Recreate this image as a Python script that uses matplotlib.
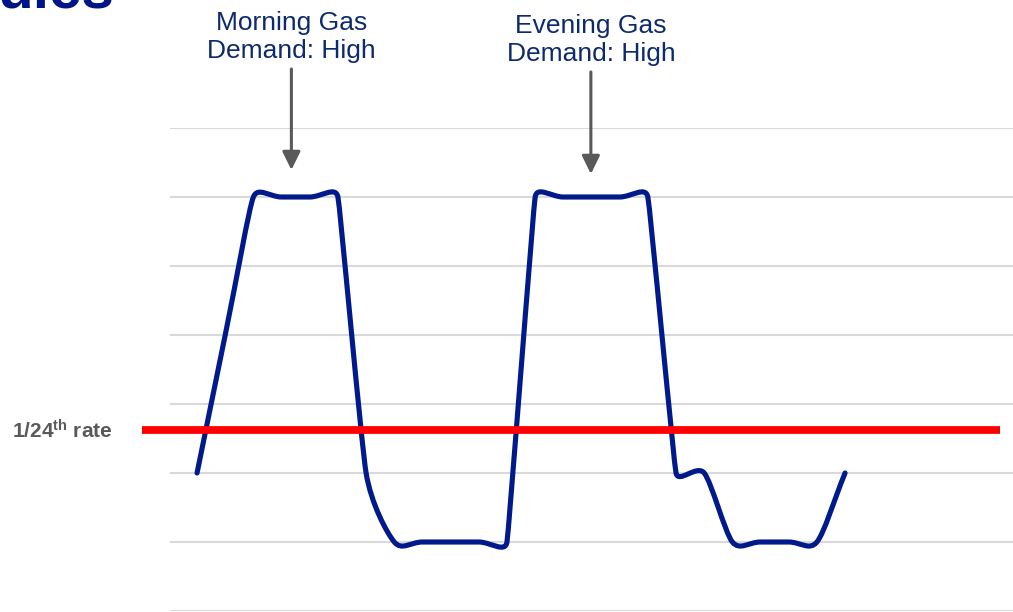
import matplotlib
matplotlib.use("Agg")
import matplotlib.pyplot as plt
from matplotlib.path import Path
from matplotlib.patches import PathPatch
import numpy as np

plt.rcParams['font.family'] = ['Liberation Sans', 'DejaVu Sans']
plt.rcParams['mathtext.fontset'] = 'custom'
plt.rcParams['mathtext.rm'] = 'Liberation Sans:bold'
plt.rcParams['mathtext.it'] = 'Liberation Sans:bold'
plt.rcParams['mathtext.bf'] = 'Liberation Sans:bold'

# Hourly gas demand profile (24 hours)
hours = list(range(24))
demand = [2, 4, 6, 6, 6, 6, 2, 1, 1, 1, 1, 1,
          6, 6, 6, 6, 6, 2, 2, 1, 1, 1, 1, 2]
flat_rate = 2.62
rate_label = r'1/24$^{\rm th}$ rate'
callouts = ["Morning Gas\nDemand: High", "Evening Gas\nDemand: High"]
callout_hours = [3.35, 13.98]
title_fragment = "ules"

W, H = 1013, 612
fig = plt.figure(figsize=(W / 100, H / 100), dpi=100)
ax = fig.add_axes([170 / W, 1 / H, 1 - 170 / W, (611 - 128) / H])
ax.set_xlim(-0.96, 28.96)
ax.set_ylim(0, 7)
for s in ax.spines.values():
    s.set_visible(False)
ax.set_xticks([])
ax.set_yticks(range(0, 8))
ax.tick_params(left=False, labelleft=False)
ax.grid(axis='y', color='#d9d9d9', linewidth=1.5)
ax.set_axisbelow(True)

# Smoothed line: cubic Bezier segments through each hourly point.
# Tangent handles are sized from the shorter neighbouring chord (display space)
fig.canvas.draw()
pts = ax.transData.transform(np.column_stack([hours, demand]).astype(float))
n = len(pts)
chords = np.hypot(*(np.diff(pts, axis=0).T))
tangents, scales = [], []
for i in range(n):
    a = pts[max(i - 1, 0)]
    b = pts[min(i + 1, n - 1)]
    d = b - a
    tangents.append(d / np.hypot(*d))
    near = [chords[j] for j in (i - 1, i) if 0 <= j < n - 1]
    scales.append(min(near))
k = 0.42
disp_verts = [pts[0]]
codes = [Path.MOVETO]
for i in range(n - 1):
    c1 = pts[i] + tangents[i] * scales[i] * k
    c2 = pts[i + 1] - tangents[i + 1] * scales[i + 1] * k
    disp_verts += [c1, c2, pts[i + 1]]
    codes += [Path.CURVE4] * 3
verts = ax.transData.inverted().transform(np.array(disp_verts))
ax.add_patch(PathPatch(Path(verts, codes), facecolor='none', edgecolor='#001a8c',
                       linewidth=3.7, capstyle='round', joinstyle='round', zorder=3))

# Flat 1/24th rate line
ax.plot([-1.95, 28.5], [flat_rate, flat_rate], color='#ff0000', linewidth=5.6,
        solid_capstyle='butt', clip_on=False, zorder=4)
fig.text(12 / W, 1 - 431 / H, rate_label, color='#595959', fontsize=15,
         fontweight='bold', ha='left', va='center')

# Callouts with arrows
text_y = [37, 40]
for lbl, hx, ty in zip(callouts, callout_hours, text_y):
    xp = 197 + hx * (648 / 23)
    fig.text(xp / W, 1 - ty / H, lbl, color='#0d2a6e', fontsize=19,
             ha='center', va='center', linespacing=1.2)
for hx, (y0, y1) in zip(callout_hours, [(69, 170), (72, 174)]):
    xp = 197 + hx * (648 / 23)
    ax.annotate('', xy=(xp / W, 1 - y1 / H), xycoords='figure fraction',
                xytext=(xp / W, 1 - y0 / H), textcoords='figure fraction',
                arrowprops=dict(arrowstyle='-|>,head_length=0.55,head_width=0.27',
                                mutation_scale=20, shrinkA=0, shrinkB=0,
                                color='#595959', linewidth=2.2))

fig.text(-3 / W, 1 - 7 / H, title_fragment, color='#001489', fontsize=42,
         fontweight='bold', ha='left', va='baseline')

fig.savefig('out.png', dpi=100)
